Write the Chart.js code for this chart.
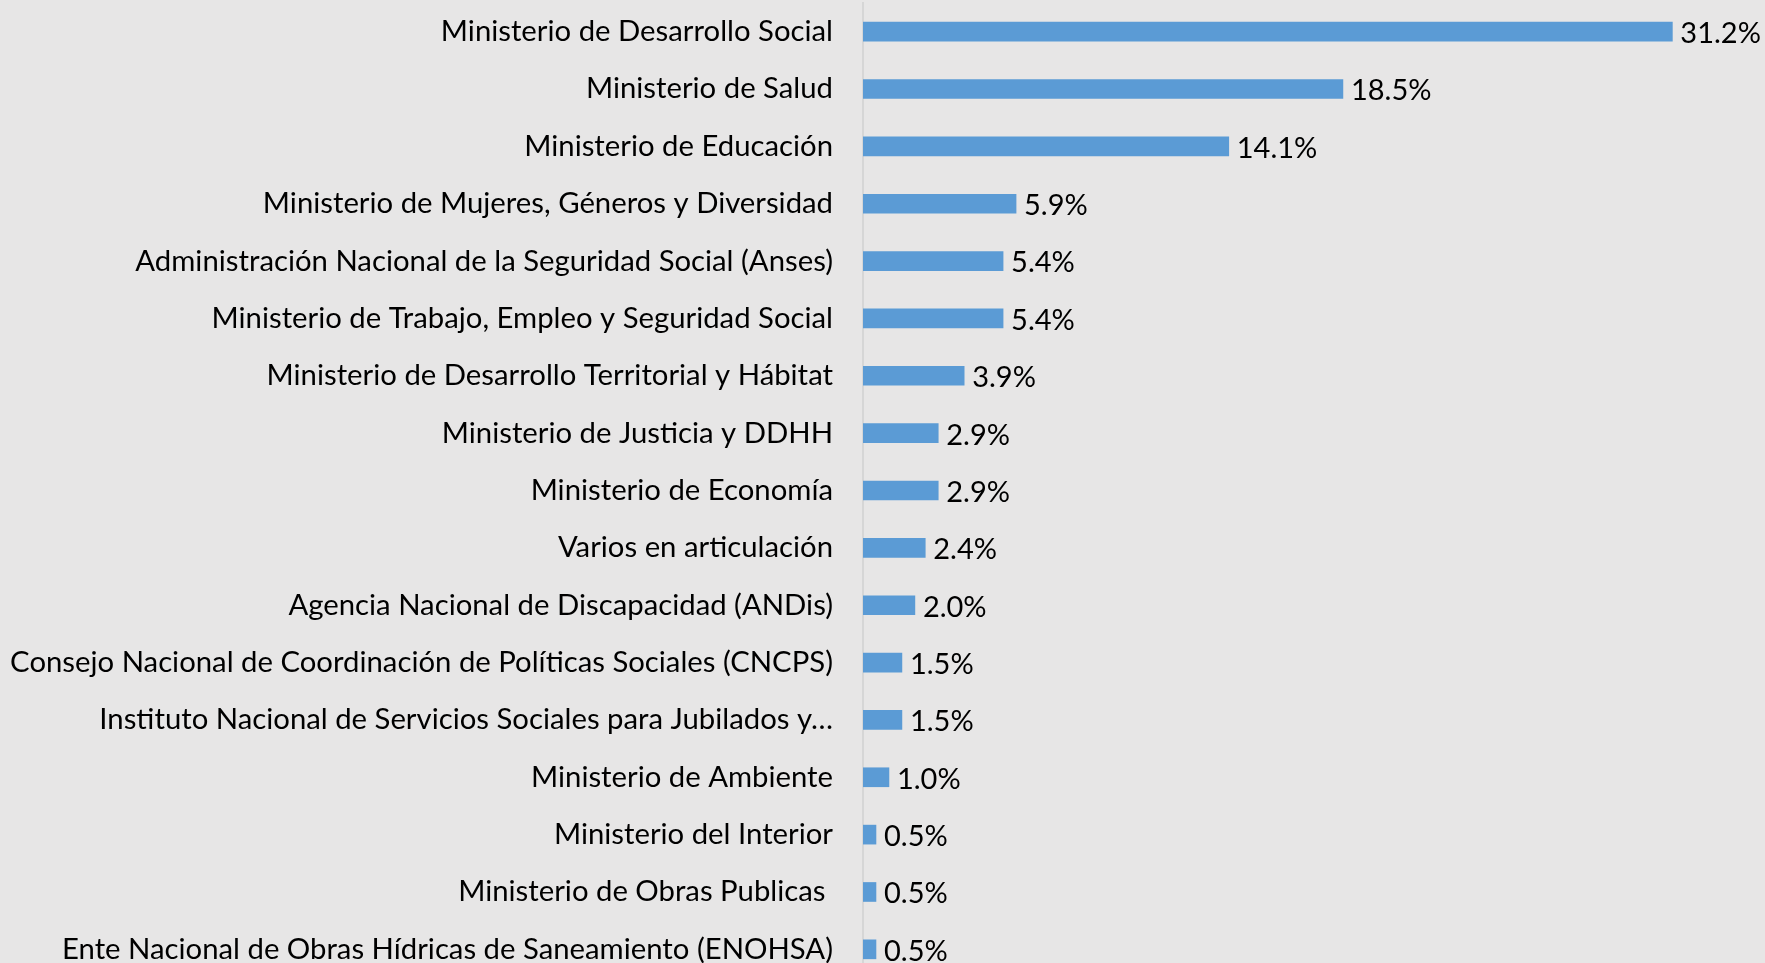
<!DOCTYPE html>
<html>
<head>
<meta charset="utf-8">
<script src="https://cdn.jsdelivr.net/npm/chart.js@4.4.0/dist/chart.umd.min.js"></script>
<style>
  html, body { margin: 0; padding: 0; overflow: hidden; background: #e7e6e6; }
  canvas { display: block; }
</style>
</head>
<body>
<canvas id="myChart" width="1765" height="980"></canvas>
<script>
// organismos y porcentaje
var organismos = [
    'Ministerio de Desarrollo Social',
    'Ministerio de Salud',
    'Ministerio de Educación',
    'Ministerio de Mujeres, Géneros y Diversidad',
    'Administración Nacional de la Seguridad Social (Anses)',
    'Ministerio de Trabajo, Empleo y Seguridad Social',
    'Ministerio de Desarrollo Territorial y Hábitat',
    'Ministerio de Justicia y DDHH',
    'Ministerio de Economía',
    'Varios en articulación',
    'Agencia Nacional de Discapacidad (ANDis)',
    'Consejo Nacional de Coordinación de Políticas Sociales (CNCPS)',
    'Instituto Nacional de Servicios Sociales para Jubilados y…',
    'Ministerio de Ambiente',
    'Ministerio del Interior',
    'Ministerio de Obras Publicas ',
    'Ente Nacional de Obras Hídricas de Saneamiento (ENOHSA)'
];
var porcentajes = [31.2, 18.5, 14.1, 5.9, 5.4, 5.4, 3.9, 2.9, 2.9, 2.4, 2.0, 1.5, 1.5, 1.0, 0.5, 0.5, 0.5];

var FONT = 'Lato, "Open Sans", sans-serif';

// etiquetas de valor al final de cada barra
var barLabels = {
    id: 'barLabels',
    afterDatasetsDraw: function(chart) {
        var c = chart.ctx;
        var meta = chart.getDatasetMeta(0);
        c.save();
        c.font = '29px ' + FONT;
        c.fillStyle = '#000';
        c.textAlign = 'left';
        c.textBaseline = 'middle';
        meta.data.forEach(function(bar, i) {
            c.fillText(porcentajes[i].toFixed(1) + '%', bar.x + 8, bar.y + 2);
        });
        c.restore();
    }
};

var ctx = document.getElementById('myChart');
var myChart = new Chart(ctx, {
    type: 'bar',
    data: {
        labels: organismos,
        datasets: [{
            data: porcentajes,
            backgroundColor: '#5b9bd5',
            borderWidth: 0,
            barThickness: 19
        }]
    },
    plugins: [barLabels],
    options: {
        indexAxis: 'y',
        responsive: false,
        animation: false,
        layout: { padding: { top: 3, bottom: 2, left: 0, right: 20 } },
        plugins: {
            legend: { display: false },
            tooltip: { enabled: false }
        },
        scales: {
            x: {
                display: false,
                min: 0,
                max: 34
            },
            y: {
                afterFit: function(s) {
                    s.width = 863;
                    s.paddingTop = 0;
                    s.paddingBottom = 0;
                },
                grid: { display: false, drawTicks: false },
                border: { display: true, color: '#d6d6d6', width: 2 },
                ticks: {
                    padding: 30,
                    color: '#000',
                    autoSkip: false,
                    font: { family: FONT, size: 29.3 }
                }
            }
        }
    }
});
</script>
</body>
</html>
